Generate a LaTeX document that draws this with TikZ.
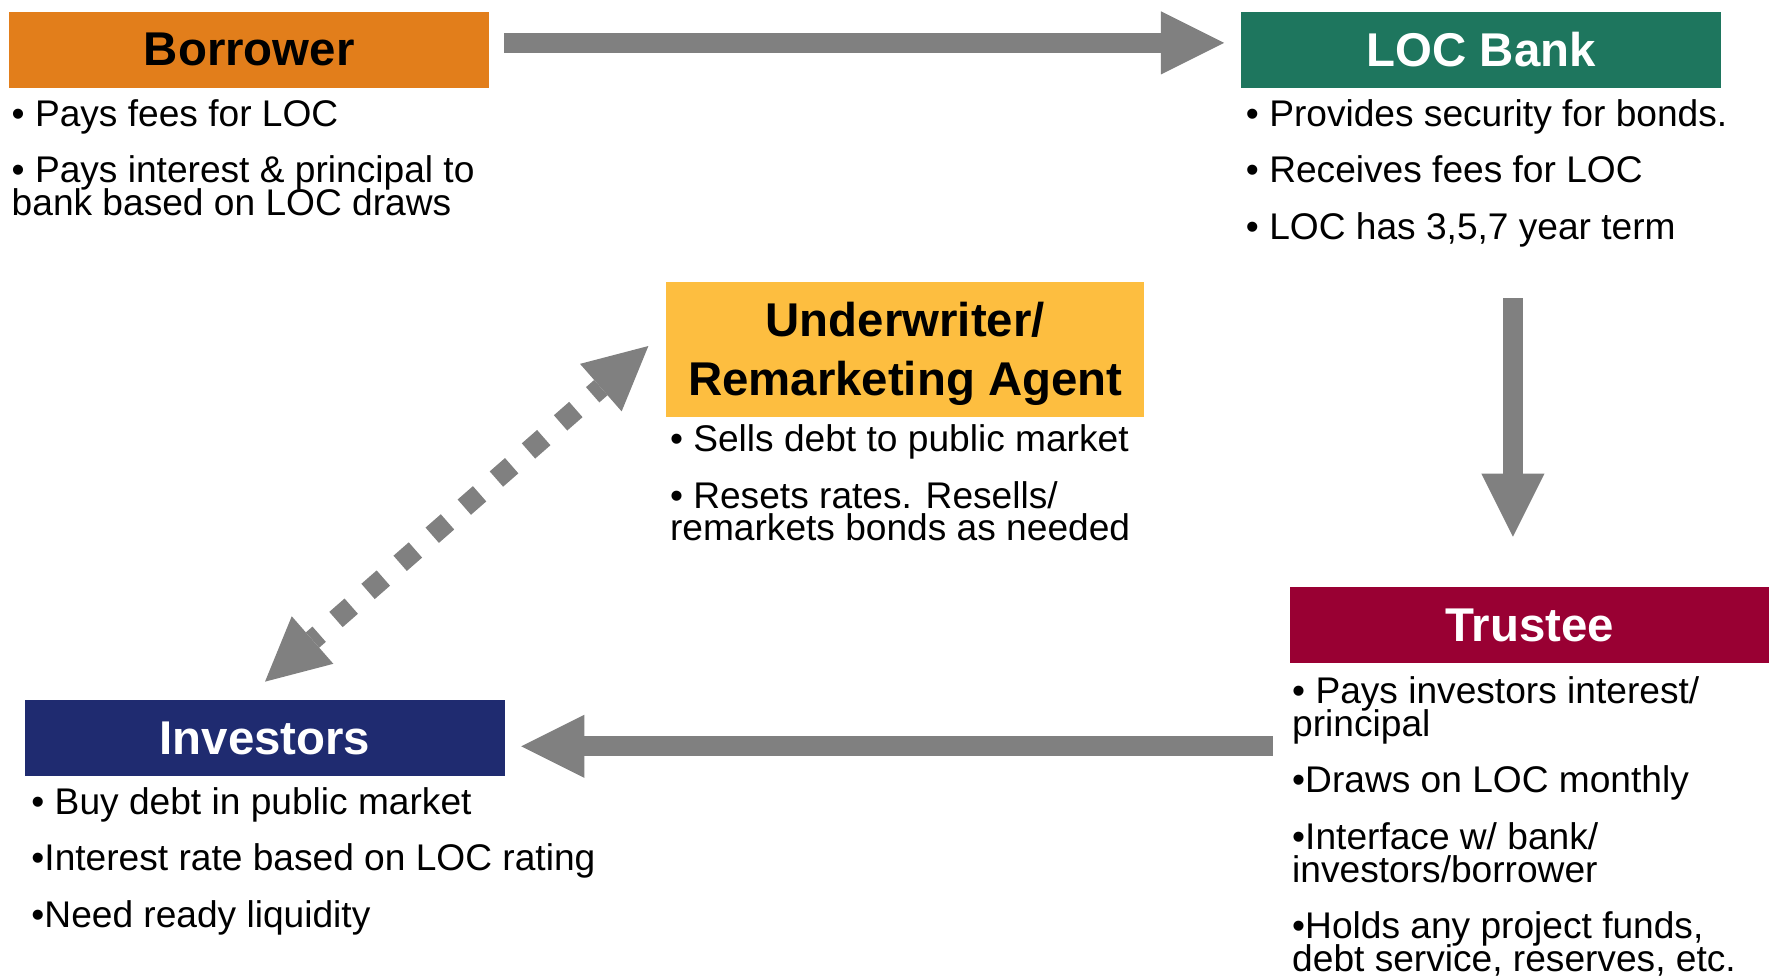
\documentclass[tikz,border=0pt]{standalone}
\usepackage{fontspec}
\setmainfont{Liberation Sans}
\usetikzlibrary{arrows.meta}
\definecolor{borrowerorange}{RGB}{226,126,27}
\definecolor{bankgreen}{RGB}{30,118,94}
\definecolor{agentyellow}{RGB}{253,190,64}
\definecolor{investornavy}{RGB}{31,43,112}
\definecolor{trusteered}{RGB}{153,0,51}
\definecolor{flowgrey}{RGB}{128,128,128}
% tight body text: fixed line pitch regardless of ascenders and descenders
\newcommand{\notefont}{\fontsize{16.45}{14.5}\selectfont\lineskiplimit=-20pt\relax\lineskip=0pt\relax}
\begin{document}
\begin{tikzpicture}[x=0.5pt,y=-0.5pt,
  titlebox/.style={rectangle, inner sep=0pt, anchor=north west,
    minimum width=212.5pt, minimum height=33.75pt,
    font=\fontsize{21}{26}\selectfont\bfseries, align=center},
  % notes are placed by the baseline of their last line
  notes/.style={anchor=base west, inner sep=0pt, align=left, font=\notefont},
  flow/.style={draw=flowgrey, line width=9pt, -{Triangle[length=28pt,width=28pt,line width=0pt]}},
  dotflow/.style={draw=flowgrey, line width=9pt,
    {Triangle[length=28pt,width=28pt,line width=0pt]}-{Triangle[length=28pt,width=28pt,line width=0pt]},
    dash pattern=on 9pt off 9.9pt, dash phase=5.1pt}
]
\useasboundingbox (0,0) rectangle (1568,866);

% parties
\node[titlebox, fill=borrowerorange, text=black] (borrower) at (8,10) {Borrower};
\node[titlebox, fill=bankgreen, text=white] (locbank) at (1100,10) {LOC Bank};
\node[titlebox, fill=agentyellow, text=black, minimum width=212pt, minimum height=59.5pt]
  (agent) at (590,250) {\rule{0pt}{19pt}Underwriter/\\Remarketing Agent};
\node[titlebox, fill=investornavy, text=white] (investors) at (22,620) {Investors};
\node[titlebox, fill=trusteered, text=white] (trustee) at (1143,520) {Trustee};

% roles of each party
\node[notes] (borrowernotes) at (10,191)
  {• Pays fees for LOC\\[10.5pt]• Pays interest \& principal to\\bank based on LOC draws};
\node[notes] (banknotes) at (1104,212)
  {• Provides security for bonds.\\[10.5pt]• Receives fees for LOC\\[10.5pt]• LOC has 3,5,7 year term};
\node[notes] (agentnotes) at (593.5,479.5)
  {• Sells debt to public market\\[10.5pt]• Resets rates. Resells/\\remarkets bonds as needed};
\node[notes] (investornotes) at (27.5,822)
  {• Buy debt in public market\\[10.5pt]•Interest rate based on LOC rating\\[10.5pt]•Need ready liquidity};
\node[notes] (trusteenotes) at (1145,860.8)
  {• Pays investors interest/\\principal\\[10.5pt]•Draws on LOC monthly\\[10.5pt]•Interface w/ bank/\\investors/borrower\\[10.5pt]•Holds any project funds,\\debt service, reserves, etc.};

% flows between the parties
\coordinate (payStart) at (447,38);
\coordinate (payEnd) at (1085,38);
\coordinate (drawStart) at (1341,264.4);
\coordinate (drawEnd) at (1341,475.7);
\coordinate (paidStart) at (1128,661.5);
\coordinate (paidEnd) at (462,661.5);
\coordinate (marketLow) at (234.9,604.2);
\coordinate (marketHigh) at (574.7,306.7);

\draw[flow] (payStart) -- (payEnd);
\draw[flow] (drawStart) -- (drawEnd);
\draw[flow] (paidStart) -- (paidEnd);
\draw[dotflow] (marketLow) -- (marketHigh);
\end{tikzpicture}
\end{document}
